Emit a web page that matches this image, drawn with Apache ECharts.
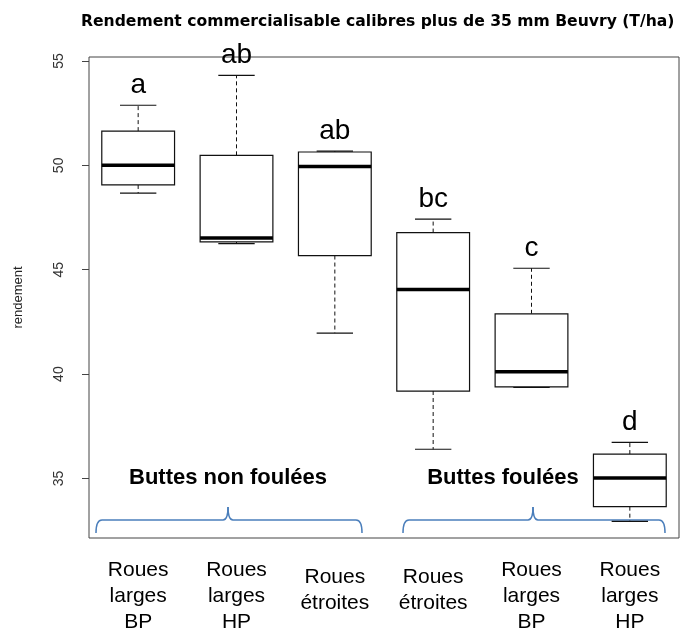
<!DOCTYPE html>
<html>
<head>
<meta charset="utf-8">
<script src="https://cdn.jsdelivr.net/npm/echarts@6/dist/echarts.min.js"></script>
<style>
  html, body { margin: 0; padding: 0; background: #fff; }
  #chart { width: 683px; height: 635px; }
</style>
</head>
<body>
<div id="chart"></div>
<script>
const categories = ['Roues\nlarges\nBP', 'Roues\nlarges\nHP', 'Roues\nétroites', 'Roues\nétroites', 'Roues\nlarges\nBP', 'Roues\nlarges\nHP'];
const lowerWhisker = [48.67, 46.25, 41.96, 36.40, 39.36, 32.95];
const q1 = [49.06, 46.33, 45.68, 39.19, 39.39, 33.65];
const median = [50.00, 46.52, 49.94, 44.05, 40.11, 35.02];
const q3 = [51.64, 50.48, 50.64, 46.78, 42.89, 36.17];
const upperWhisker = [52.88, 54.31, 50.68, 47.42, 45.07, 36.73];
const letters = ['a', 'ab', 'ab', 'bc', 'c', 'd'];
const yTicks = [35, 40, 45, 50, 55];
const groups = ['Buttes non foulées', 'Buttes foulées'];

const boxData = categories.map((c, i) => [i, lowerWhisker[i], q1[i], median[i], q3[i], upperWhisker[i]]);

const lineColor = '#111';
const braceColor = '#4a7ebb';

function renderBox(params, api) {
    const i = api.value(0);
    const lo = api.coord([i, api.value(1)]);
    const b1 = api.coord([i, api.value(2)]);
    const md = api.coord([i, api.value(3)]);
    const b3 = api.coord([i, api.value(4)]);
    const hi = api.coord([i, api.value(5)]);
    const band = api.size([1, 0])[0];
    const half = band * 0.37;
    const cap = half / 2;
    const x = lo[0];
    const dashed = { stroke: lineColor, lineWidth: 1, lineDash: [4, 3] };
    const solid = { stroke: lineColor, lineWidth: 1.2 };
    return {
        type: 'group',
        children: [
            { type: 'line', shape: { x1: x, y1: b3[1], x2: x, y2: hi[1] }, style: dashed },
            { type: 'line', shape: { x1: x, y1: b1[1], x2: x, y2: lo[1] }, style: dashed },
            { type: 'line', shape: { x1: x - cap, y1: hi[1], x2: x + cap, y2: hi[1] }, style: solid },
            { type: 'line', shape: { x1: x - cap, y1: lo[1], x2: x + cap, y2: lo[1] }, style: solid },
            { type: 'rect', shape: { x: x - half, y: b3[1], width: half * 2, height: b1[1] - b3[1] },
              style: { fill: '#fff', stroke: lineColor, lineWidth: 1.2 } },
            { type: 'line', shape: { x1: x - half, y1: md[1], x2: x + half, y2: md[1] },
              style: { stroke: '#000', lineWidth: 3.5 } },
            { type: 'text', style: { text: letters[i], x: x, y: hi[1] - 6, align: 'center', verticalAlign: 'bottom',
              font: '28px "Liberation Sans", Arial, sans-serif', fill: '#000' } }
        ]
    };
}

function brace(x0, xm, x1, yBase, yEnd, yPeak) {
    const st = { stroke: braceColor, lineWidth: 1.5, fill: 'none' };
    return {
        type: 'group',
        silent: true,
        children: [
            { type: 'bezierCurve', shape: { x1: x0, y1: yEnd, cpx1: x0, cpy1: yBase, x2: x0 + 6, y2: yBase }, style: st },
            { type: 'line', shape: { x1: x0 + 6, y1: yBase, x2: xm - 5, y2: yBase }, style: st },
            { type: 'bezierCurve', shape: { x1: xm - 5, y1: yBase, cpx1: xm, cpy1: yBase, x2: xm, y2: yPeak }, style: st },
            { type: 'bezierCurve', shape: { x1: xm, y1: yPeak, cpx1: xm, cpy1: yBase, x2: xm + 5, y2: yBase }, style: st },
            { type: 'line', shape: { x1: xm + 5, y1: yBase, x2: x1 - 6, y2: yBase }, style: st },
            { type: 'bezierCurve', shape: { x1: x1 - 6, y1: yBase, cpx1: x1, cpy1: yBase, x2: x1, y2: yEnd }, style: st }
        ]
    };
}

const groupFont = 'bold 22px "Liberation Sans", Arial, sans-serif';

const chart = echarts.init(document.getElementById('chart'));
chart.setOption({
    animation: false,
    title: {
        text: 'Rendement commercialisable calibres plus de 35 mm Beuvry (T/ha)',
        left: 76,
        top: 9,
        textStyle: { fontFamily: 'DejaVu Sans', fontWeight: 'bold', fontSize: 15.6, color: '#000' }
    },
    grid: {
        left: 89, right: 4, top: 57, bottom: 96,
        show: true, borderColor: '#444', borderWidth: 1, backgroundColor: 'transparent'
    },
    xAxis: {
        type: 'category',
        data: categories.map((c, i) => ({
            value: c,
            textStyle: c.split('\n').length === 2 ? { padding: [7, 0, 0, 0] } : {}
        })),
        axisLine: { show: false },
        axisTick: { alignWithLabel: true, length: 8, lineStyle: { color: '#444' } },
        axisLabel: {
            margin: 19,
            fontFamily: 'Liberation Sans, Arial, sans-serif',
            fontSize: 21,
            lineHeight: 26,
            color: '#000'
        },
        splitLine: { show: false }
    },
    yAxis: {
        type: 'value',
        min: 32.15,
        max: 55.19,
        name: 'rendement',
        nameLocation: 'middle',
        nameRotate: 90,
        nameGap: 64,
        nameTextStyle: { fontFamily: 'Liberation Sans, Arial, sans-serif', fontSize: 13, color: '#222' },
        axisLine: { show: false },
        axisTick: { show: true, length: 7, customValues: yTicks, lineStyle: { color: '#444' } },
        axisLabel: {
            customValues: yTicks,
            rotate: 90,
            margin: 23,
            fontFamily: 'Liberation Sans, Arial, sans-serif',
            fontSize: 14,
            color: '#333'
        },
        splitLine: { show: false }
    },
    series: [{
        type: 'custom',
        renderItem: renderBox,
        data: boxData,
        encode: { x: 0, y: [1, 2, 3, 4, 5] },
        clip: false,
        z: 5
    }],
    graphic: [
        brace(96, 228, 362, 520, 533, 507),
        brace(403, 533, 665, 520, 533, 507),
        { type: 'text', x: 228, y: 489, style: { text: groups[0], font: groupFont, fill: '#000', align: 'center', verticalAlign: 'bottom' } },
        { type: 'text', x: 503, y: 489, style: { text: groups[1], font: groupFont, fill: '#000', align: 'center', verticalAlign: 'bottom' } }
    ]
});

window.addEventListener('resize', () => chart.resize());
</script>
</body>
</html>
